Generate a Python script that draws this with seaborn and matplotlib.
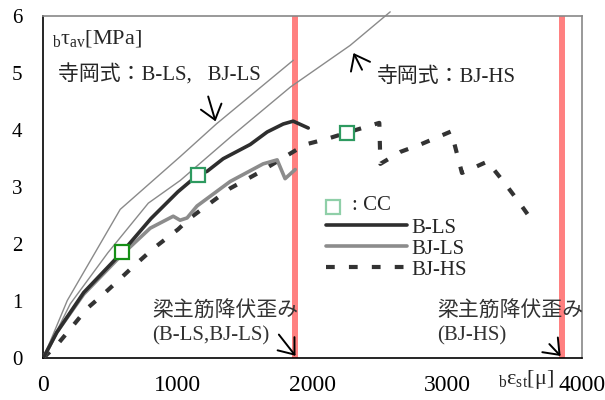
import numpy as np
import pandas as pd
import matplotlib
matplotlib.use("Agg")
import matplotlib.pyplot as plt
import seaborn as sns

# --- data ---
# B-LS (thick black)
bls_x = [0, 100, 300, 586, 800, 1000, 1150, 1217, 1336, 1537, 1663, 1782, 1856, 1968]
bls_y = [0, 0.45, 1.15, 1.86, 2.45, 2.92, 3.22, 3.28, 3.50, 3.75, 3.97, 4.11, 4.16, 4.04]
# BJ-LS (thick gray)
bjls_x = [0, 100, 300, 586, 794, 965, 1016, 1068, 1142, 1388, 1633, 1737, 1796, 1871]
bjls_y = [0, 0.45, 1.12, 1.82, 2.28, 2.49, 2.42, 2.46, 2.67, 3.10, 3.41, 3.48, 3.15, 3.31]
# BJ-HS (dashed)
bjhs_x = [0, 102, 221, 325, 437, 570, 660, 816, 1001, 1091, 1388, 1589, 1834, 1946,
          2109, 2258, 2496, 2504, 2652, 2801, 3030, 3110, 3299, 3418, 3530, 3641]
bjhs_y = [0, 0.23, 0.57, 0.87, 1.10, 1.39, 1.59, 1.92, 2.26, 2.46, 2.98, 3.24, 3.59, 3.75,
          3.85, 3.96, 4.13, 3.41, 3.62, 3.75, 3.98, 3.25, 3.45, 3.10, 2.75, 2.38]
# Teraoka formula (thin gray)
tera1_x = [0, 178, 571, 1018, 1285, 1857]
tera1_y = [0, 1.01, 2.61, 3.54, 4.11, 5.23]
tera2_x = [0, 200, 480, 780, 1018, 1400, 1836, 2279, 2577]
tera2_y = [0, 0.95, 1.85, 2.72, 3.12, 3.90, 4.76, 5.49, 6.08]
# crack points (CC)
cc_x = [586, 1150, 2258]
cc_y = [1.86, 3.22, 3.96]
cc_colors = ["#168f16", "#2e9a60", "#2e9a60"]
# yield strains
yield_x = [1870, 3855]

sns.set_style("white")
plt.rcParams["font.family"] = ["Liberation Serif", "Noto Sans CJK JP"]
plt.rcParams["mathtext.fontset"] = "stix"
plt.rcParams["mathtext.default"] = "regular"
FS = 15

fig = plt.figure(figsize=(6.05, 4.0), dpi=100)
ax = fig.add_axes([0.0716, 0.105, 0.890, 0.854])

for xv in yield_x:
    ax.axvline(xv, color="#ff8080", lw=4.3, zorder=1)

sns.lineplot(x=tera1_x, y=tera1_y, ax=ax, color="#8a8a8a", lw=1.0, sort=False, zorder=2)
sns.lineplot(x=tera2_x, y=tera2_y, ax=ax, color="#8a8a8a", lw=1.0, sort=False, zorder=2,
             clip_on=False)
sns.lineplot(x=bjhs_x, y=bjhs_y, ax=ax, color="#333333", lw=3.0, sort=False, zorder=3,
             linestyle=(0, (2.1, 3.4)), label="BJ-HS")
sns.lineplot(x=bjls_x, y=bjls_y, ax=ax, color="#8c8c8c", lw=2.6, sort=False, zorder=4,
             label="BJ-LS")
sns.lineplot(x=bls_x, y=bls_y, ax=ax, color="#2e2e2e", lw=2.6, sort=False, zorder=5,
             label="B-LS")
for xv, yv, c in zip(cc_x, cc_y, cc_colors):
    ax.plot(xv, yv, marker="s", ms=10.5, mfc="white", mec=c, mew=1.6, zorder=6)

ax.set_xlim(0, 4000)
ax.set_ylim(0, 6)
ax.set_xticks([0, 1000, 2000, 3000, 4000])
ax.set_yticks(range(7))
ax.tick_params(direction="in", length=4, width=1, colors="black")
ax.tick_params(axis="x", pad=12, labelsize=17)
ax.tick_params(axis="y", pad=15, labelsize=15)
for s in ["left", "bottom"]:
    ax.spines[s].set_color("black")
    ax.spines[s].set_linewidth(1.2)
for s in ["top", "right"]:
    ax.spines[s].set_color("#888888")
    ax.spines[s].set_linewidth(1.2)

# legend
h, l = ax.get_legend_handles_labels()
order = ["B-LS", "BJ-LS", "BJ-HS"]
hh = [h[l.index(k)] for k in order]
leg = ax.legend(hh, order, loc="upper left", bbox_to_anchor=(0.525, 0.41),
                frameon=False, fontsize=FS, handlelength=3.9, handletextpad=0.2,
                labelspacing=0.07, borderpad=0, borderaxespad=0)
ax.plot(0.538, 0.4407, transform=ax.transAxes, marker="s", ms=10.5, mfc="white",
        mec="#8fcfa8", mew=1.6, clip_on=False)
ax.text(0.573, 0.447, ": CC", transform=ax.transAxes, fontsize=FS, va="center")

# annotations
ax.text(65, 5.62, "${}_{b}τ_{av}$[MPa]", fontsize=FS + 1, va="center")
ax.text(3374, -0.38, "${}_{b}ε_{st}$[μ]", fontsize=FS + 1,
        va="center", clip_on=False)
ax.text(110, 4.98, "寺岡式：B-LS,   BJ-LS", fontsize=FS, va="center")
ax.text(2480, 4.93, "寺岡式：BJ-HS", fontsize=FS, va="center")
ax.text(808, 0.61, "梁主筋降伏歪み\n(B-LS,BJ-LS)", fontsize=FS, va="center",
        color="#333333", linespacing=1.4)
ax.text(2927, 0.61, "梁主筋降伏歪み\n(BJ-HS)", fontsize=FS, va="center",
        color="#333333", linespacing=1.4)

arr = dict(arrowstyle="->, head_length=0.45, head_width=0.35", lw=1.4, color="black",
           mutation_scale=22)
ax.annotate("", xy=(1285, 4.11), xytext=(1219, 4.64), arrowprops=arr)
ax.annotate("", xy=(2295, 5.40), xytext=(2377, 5.02), arrowprops=arr)
ax.annotate("", xy=(1886, 0.0), xytext=(1737, 0.45), arrowprops=arr, annotation_clip=False)
ax.annotate("", xy=(3857, 0.0), xytext=(3745, 0.28), arrowprops=arr, annotation_clip=False)

fig.savefig("out.png", dpi=100)
